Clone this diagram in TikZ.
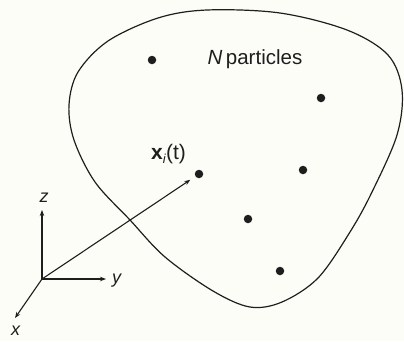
\documentclass[tikz,border=0pt]{standalone}
\usepackage{fontspec}
\setmainfont{Liberation Sans}
\usetikzlibrary{arrows.meta}
\definecolor{bg}{HTML}{FDFDF8}
\definecolor{ink}{HTML}{1E1E1E}
\tikzset{
  particle/.style={circle,fill=ink,inner sep=0pt,minimum size=8.5pt},
  axis/.style={draw=ink,line width=1.1pt,-{Stealth[length=6pt,width=4.5pt]}},
  lbl/.style={text=ink,inner sep=0pt,font=\fontsize{18}{20}\selectfont},
  outline/.style={draw=ink,line width=1.2pt}
}
\begin{document}
\begin{tikzpicture}[x=1pt,y=-1pt]
\fill[bg] (0,0) rectangle (404,341);
\useasboundingbox (0,0) rectangle (404,341);
% region outline
\draw[outline] plot[smooth cycle,tension=0.55] coordinates {
 (207,10) (280,13) (347,30) (388,55) (402,90) (397,135) (372,192) (350,232)
 (318,278) (282,302) (250,307) (213,291) (165,257) (130,220) (95,182)
 (74,140) (69,105) (78,72) (108,41) (158,18)};
% particles
\node[particle] (p1) at (152,60) {};
\node[particle] (p2) at (321,98) {};
\node[particle] (pi) at (199,174) {};
\node[particle] (p3) at (303,170) {};
\node[particle] (p4) at (248,219) {};
\node[particle] (p5) at (280,271) {};
% labels
\node[lbl,font=\fontsize{20.5}{22}\selectfont] (np) at (255,59) {\textit{N}\,particles};
\node[lbl,font=\fontsize{21}{23}\selectfont,anchor=west] (xl) at (151,154) {\textbf{x}\raisebox{-4.5pt}{\fontsize{13}{13}\selectfont\textit{i}}(t)};
% axes
\coordinate (o) at (42,279);
\coordinate (ze) at (42,210);
\coordinate (ye) at (106,279);
\coordinate (xe) at (15,318);
\draw[axis] (o) -- (ze);
\draw[axis] (o) -- (ye);
\draw[axis] (o) -- (xe);
\node[lbl] (zl) at (44,198) {\textit{z}};
\node[lbl] (yl) at (117,281) {\textit{y}};
\node[lbl] (xl2) at (16,331) {\textit{x}};
% position vector
\draw[axis,shorten >=6pt] (o) -- (pi);
\end{tikzpicture}
\end{document}
